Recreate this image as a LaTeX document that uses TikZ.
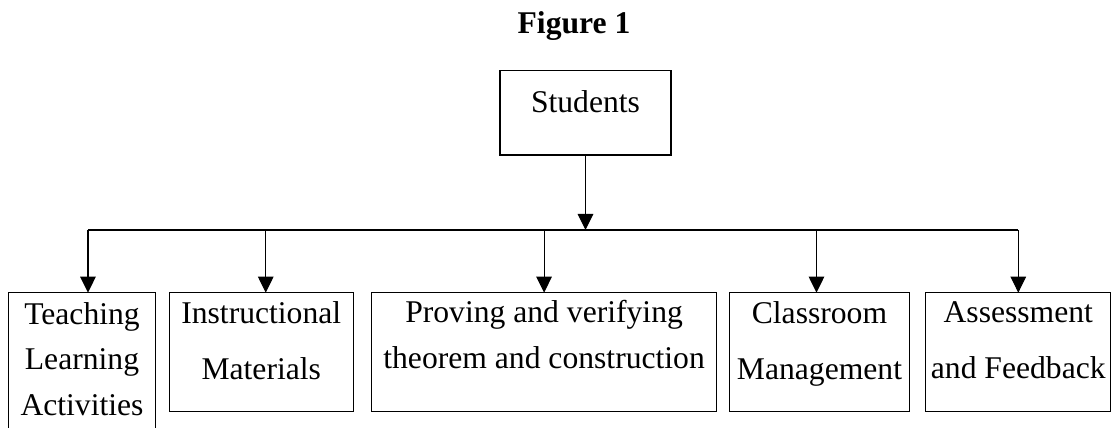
\documentclass[tikz,border=0pt]{standalone}
\usepackage{fontspec}
\setmainfont{Liberation Serif}
\usetikzlibrary{arrows.meta,positioning}

\begin{document}
\begin{tikzpicture}[
    x=0.02cm,y=-0.02cm,
    line width=0.6pt,
    font=\fontsize{18}{26}\selectfont,
    box/.style={draw,rectangle,inner sep=0pt,outer sep=0pt,minimum height=2.38cm},
    txt/.style={inner sep=0pt,align=center},
    arr/.style={-{Triangle[width=0.31cm,length=0.32cm]}}
  ]
  \useasboundingbox (0,0) rectangle (1113,428);
  \node[font=\fontsize{18}{26}\selectfont\bfseries,anchor=base] (title) at (574,33.3) {Figure 1};
  \node[box,minimum width=3.42cm,minimum height=1.686cm,anchor=north] (stu) at (585.5,70.7) {};
  \node[txt,below=0.39cm of stu.north] (stut) {Students};
  % lower row of boxes
  \node[box,minimum width=2.948cm,minimum height=3.4cm,anchor=north west] (tla) at (8.3,292.7) {};
  \node[box,minimum width=3.68cm,right=0.272cm of tla.north east,anchor=north west] (im) {};
  \node[box,minimum width=6.9cm,right=0.368cm of im.north east,anchor=north west] (pvt) {};
  \node[box,minimum width=3.614cm,right=0.252cm of pvt.north east,anchor=north west] (crm) {};
  \node[box,minimum width=3.7cm,right=0.32cm of crm.north east,anchor=north west] (af) {};
  \node[txt,below=0.18cm of tla.north] (tlat) {Teaching\\Learning\\Activities};
  \node[txt,below=0.17cm of im.north]  (imt)  {Instructional\\[0.2cm]Materials};
  \node[txt,below=0.14cm of pvt.north] (pvtt) {Proving and verifying\\theorem and construction};
  \node[txt,below=0.17cm of crm.north] (crmt) {Classroom\\[0.2cm]Management};
  \node[txt,below=0.17cm of af.north]  (aft)  {Assessment\\[0.2cm]and Feedback};
  % connectors
  \coordinate (bus) at (0,230);
  \draw[arr] (stu.south) -- (stu.south |- bus);
  \draw ([xshift=0.12cm]tla.north |- bus) -- (af.north |- bus);
  \foreach \b/\dx in {tla/0.12,im/0.09,pvt/0,crm/-0.06,af/0}
    \draw[arr] ([xshift=\dx cm]\b.north |- bus) -- ([xshift=\dx cm]\b.north);
\end{tikzpicture}
\end{document}
